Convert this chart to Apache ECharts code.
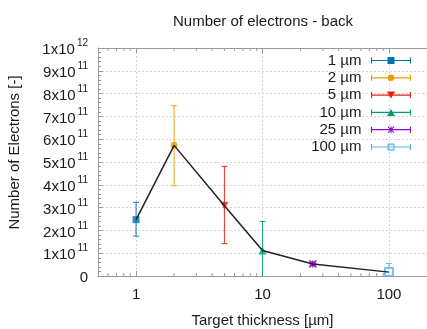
<!DOCTYPE html>
<html>
<head>
<meta charset="utf-8">
<script src="https://cdn.jsdelivr.net/npm/echarts@6/dist/echarts.min.js"></script>
<style>html,body{margin:0;padding:0;background:#fff}#c{width:427px;height:329px}</style>
</head>
<body>
<div id="c"></div>
<script>
const thickness = [1, 2, 5, 10, 25, 100];
const electrons = [2.47e11, 5.73e11, 3.08e11, 1.12e11, 0.53e11, 0.17e11];
const errLow = [1.75e11, 3.96e11, 1.42e11, -0.2e11, 0.45e11, -0.1e11];
const errHigh = [3.23e11, 7.47e11, 4.81e11, 2.39e11, 0.60e11, 0.55e11];
const seriesNames = ['1 µm', '2 µm', '5 µm', '10 µm', '25 µm', '100 µm'];
const seriesColors = ['#0072b2', '#e69f00', '#e51e10', '#009e73', '#9400d3', '#56b4e9'];
const xMinorTicks = [0.6, 0.7, 0.8, 0.9, 2, 3, 4, 5, 6, 7, 8, 9, 20, 30, 40, 50, 60, 70, 80, 90];

const FONT = 'Liberation Sans, Arial, sans-serif';
const TXT = '#1a1a1a';

const symbols = [
  {symbol: 'rect', size: 7, rotate: 0, empty: false},
  {symbol: 'circle', size: 7, rotate: 0, empty: false},
  {symbol: 'triangle', size: 8, rotate: 180, empty: false},
  {symbol: 'triangle', size: 8, rotate: 0, empty: false},
  {symbol: 'path://M0 0L10 10M10 0L0 10M5 0L5 10M0 5L10 5', size: 7, rotate: 0, empty: true},
  {symbol: 'emptyRect', size: 8, rotate: 0, empty: false}
];

const base = 'M0 0M40 8M0 3.4H40V4.6H0Z M0 1H1.1V7H0Z M38.9 1H40V7H38.9Z ';
const legendMarkers = [
  'M16.5 0.5H23.5V7.5H16.5Z',
  'M23.3 4A3.3 3.3 0 1 1 16.7 4A3.3 3.3 0 1 1 23.3 4Z',
  'M16 0.5H24L20 7.5Z',
  'M20 0.5L24 7.5H16Z',
  'M16.6 1.3L17.3 0.6L23.4 6.7L22.7 7.4Z M22.7 0.6L23.4 1.3L17.3 7.4L16.6 6.7Z M19.5 0.5H20.5V7.5H19.5Z',
  'M16.5 0.5H23.5V7.5H16.5Z M17.7 1.7V6.3H22.3V1.7Z'
];

function yLabel(v) {
  if (v === 0) return '{b|0}';
  const e = Math.floor(Math.log10(v) + 1e-9);
  const m = Math.round(v / Math.pow(10, e));
  return '{b|' + m + 'x10}{s|' + e + '}';
}

const series = [];
thickness.forEach(function (t, i) {
  series.push({
    type: 'custom',
    name: seriesNames[i],
    clip: true,
    z: 2,
    itemStyle: {color: seriesColors[i]},
    encode: {x: 0, y: 1},
    data: [[t, electrons[i], errLow[i], errHigh[i]]],
    renderItem: function (params, api) {
      const x = api.value(0);
      const lo = api.coord([x, api.value(2)]);
      const hi = api.coord([x, api.value(3)]);
      const c = seriesColors[i];
      const st = {stroke: c, lineWidth: 1.1, opacity: 0.85};
      return {
        type: 'group',
        children: [
          {type: 'line', shape: {x1: lo[0], y1: lo[1], x2: hi[0], y2: hi[1]}, style: st},
          {type: 'line', shape: {x1: hi[0] - 3, y1: hi[1], x2: hi[0] + 3, y2: hi[1]}, style: st},
          {type: 'line', shape: {x1: lo[0] - 3, y1: lo[1], x2: lo[0] + 3, y2: lo[1]}, style: st}
        ]
      };
    }
  });
});
thickness.forEach(function (t, i) {
  const s = symbols[i];
  series.push({
    type: 'scatter',
    name: seriesNames[i],
    z: 3,
    symbol: s.symbol,
    symbolSize: s.size,
    symbolRotate: s.rotate,
    itemStyle: s.empty ? {color: 'rgba(0,0,0,0)', borderColor: seriesColors[i], borderWidth: 1.6}
      : (s.symbol === 'emptyRect' ? {color: seriesColors[i], borderColor: seriesColors[i], borderWidth: 1.5} : {color: seriesColors[i]}),
    emphasis: {disabled: true},
    data: [[t, electrons[i]]]
  });
});
series.push({
  type: 'line',
  name: 'all',
  z: 4,
  symbol: 'none',
  lineStyle: {color: '#222', width: 1.5},
  data: thickness.map(function (t, i) { return [t, electrons[i]]; })
});
series.push({
  type: 'custom',
  name: 'minor',
  z: 1,
  silent: true,
  encode: {x: 0, y: 1},
  data: xMinorTicks.map(function (v) { return [v, 0]; }),
  renderItem: function (params, api) {
    const x = api.value(0);
    const b = api.coord([x, 0]);
    const t = api.coord([x, 1e12]);
    const st = {stroke: '#999', lineWidth: 1};
    return {
      type: 'group',
      children: [
        {type: 'line', shape: {x1: b[0], y1: b[1], x2: b[0], y2: b[1] - 3}, style: st},
        {type: 'line', shape: {x1: t[0], y1: t[1], x2: t[0], y2: t[1] + 3}, style: st}
      ]
    };
  }
});

const chart = echarts.init(document.getElementById('c'), null, {renderer: 'canvas'});
chart.setOption({
  animation: false,
  backgroundColor: '#fff',
  textStyle: {fontFamily: FONT},
  title: {
    text: 'Number of electrons - back',
    left: 263, top: 14, padding: 0, textAlign: 'center',
    textStyle: {fontFamily: FONT, fontSize: 15, fontWeight: 'normal', color: TXT}
  },
  legend: {
    orient: 'vertical',
    right: 16, top: 53, padding: 0,
    align: 'right',
    itemWidth: 41, itemHeight: 8, itemGap: 2.3,
    textStyle: {fontFamily: FONT, fontSize: 15, color: TXT, lineHeight: 15, padding: [0, 4, 0, 0]},
    selectedMode: false,
    data: seriesNames.map(function (n, i) { return {name: n, icon: 'path://' + base + legendMarkers[i]}; })
  },
  grid: {left: 98, right: 0, top: 48, bottom: 53, containLabel: false, outerBoundsMode: 'none'},
  xAxis: [{
    type: 'log', logBase: 10, min: 0.5, max: 200,
    name: 'Target thickness [µm]', nameLocation: 'middle', nameGap: 37,
    nameTextStyle: {fontFamily: FONT, fontSize: 15, color: TXT},
    axisLine: {show: true, lineStyle: {color: '#999', width: 1}},
    axisTick: {show: true, inside: true, length: 5, lineStyle: {color: '#999'}},
    axisLabel: {fontFamily: FONT, fontSize: 15, color: TXT, margin: 11, showMinLabel: false, showMaxLabel: false},
    splitLine: {show: true, lineStyle: {color: '#d4d4d4', type: [2, 2], width: 1}},
    minorTick: {show: false}
  }, {
    type: 'log', logBase: 10, min: 0.5, max: 200, position: 'top',
    axisLine: {show: true, lineStyle: {color: '#999', width: 1}},
    axisTick: {show: true, inside: true, length: 5, lineStyle: {color: '#999'}},
    axisLabel: {show: false},
    splitLine: {show: false}
  }],
  yAxis: {
    type: 'value', min: 0, max: 1e12, interval: 1e11,
    axisLine: {show: true, lineStyle: {color: '#999', width: 1}},
    axisTick: {show: true, inside: true, length: 5, lineStyle: {color: '#999'}},
    minorTick: {show: true, splitNumber: 5, length: 3, lineStyle: {color: '#999'}},
    splitLine: {show: true, lineStyle: {color: '#d4d4d4', type: [2, 2], width: 1}},
    axisLabel: {
      margin: 10, formatter: yLabel,
      rich: {
        b: {fontFamily: FONT, fontSize: 15, color: TXT, lineHeight: 19, verticalAlign: 'bottom'},
        s: {fontFamily: FONT, fontSize: 10, color: TXT, lineHeight: 10, verticalAlign: 'top', padding: [0, 0, 0, 2]}
      }
    }
  },
  graphic: [{
    type: 'text', rotation: Math.PI / 2, x: 15, y: 152.5,
    style: {text: 'Number of Electrons [-]', fontFamily: FONT, fontSize: 15, fill: TXT, align: 'center', verticalAlign: 'middle'}
  }],
  series: series
});
</script>
</body>
</html>
